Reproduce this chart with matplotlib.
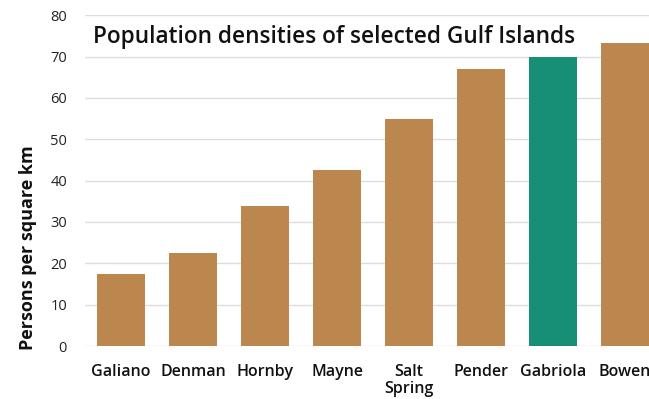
import matplotlib.pyplot as plt

islands = ["Galiano", "Denman", "Hornby", "Mayne", "Salt\nSpring", "Pender", "Gabriola", "Bowen"]
density = [17.4, 22.5, 33.8, 42.5, 54.8, 67.0, 70.0, 73.4]
highlight = "Gabriola"
y_ticks = [0, 10, 20, 30, 40, 50, 60, 70, 80]

brown = "#BC864F"
green = "#178E76"

plt.rcParams["font.family"] = ["Open Sans", "DejaVu Sans"]

fig = plt.figure(figsize=(6.49, 3.99), dpi=100)
ax = fig.add_axes([85 / 649, 53 / 399, 564 / 649, 330.7 / 399])

colors = [green if name == highlight else brown for name in islands]
x = list(range(len(islands)))
ax.bar(x, density, width=0.667, color=colors, zorder=2)

ax.set_xlim(-0.5, 7.333)
ax.set_ylim(0, 80)
ax.set_yticks(y_ticks)
ax.set_xticks(x)
ax.set_xticklabels(islands, fontsize=11.5, fontweight="semibold", linespacing=1.05)
ax.tick_params(axis="y", labelsize=10.5, length=0, pad=13, colors="#222222")
ax.tick_params(axis="x", length=0, pad=13, colors="#111111")
ax.grid(axis="y", color="#DDDDDD", linewidth=1, zorder=0)
for s in ax.spines.values():
    s.set_visible(False)

# axis title sits lower than the axes centre in the original
fig.text(28.5 / 649, 1 - 247.5 / 399, "Persons per square km", rotation=90,
         fontsize=13, fontweight="bold", ha="center", va="center", color="#111111")

fig.text(93 / 649, 1 - 42.7 / 399, "Population densities of selected Gulf Islands",
         fontsize=16.3, fontweight="semibold", ha="left", va="baseline", color="#111111")

fig.savefig("out.png", dpi=100)
